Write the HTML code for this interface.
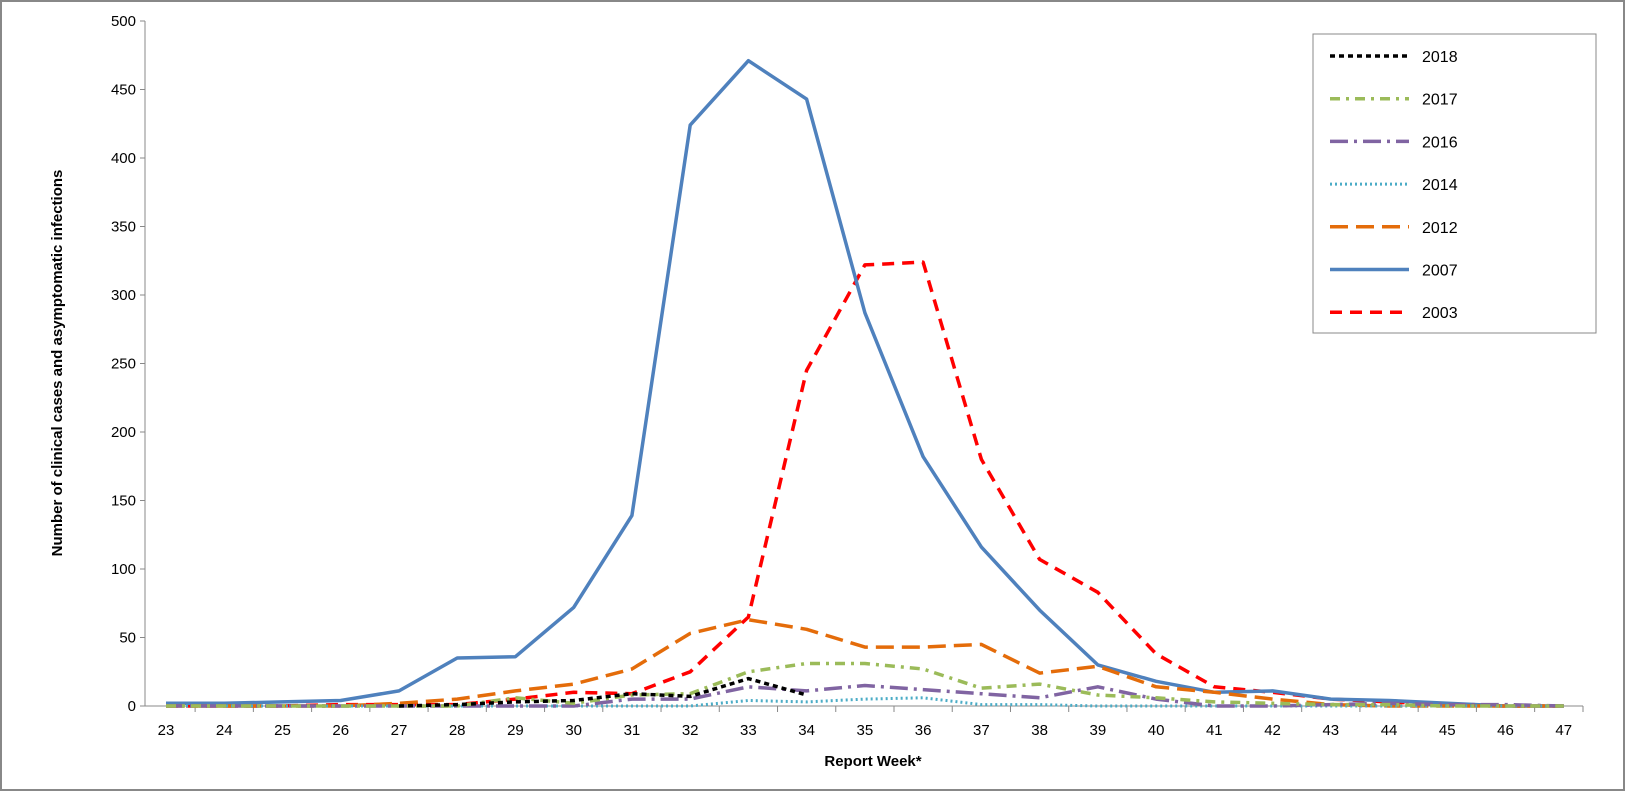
<!DOCTYPE html>
<html><head><meta charset="utf-8"><style>
html,body{margin:0;padding:0;background:#fff}
svg{display:block;font-family:"Liberation Sans",sans-serif}
</style></head><body>
<svg width="1625" height="791">
<rect x="1" y="1" width="1623" height="789" fill="#fff" stroke="#888" stroke-width="2"/>
<g id="axes"></g>
<g id="series"></g>
<text x="873" y="766" font-size="15" font-weight="bold" text-anchor="middle">Report Week*</text>
<text transform="translate(62,363) rotate(-90)" font-size="15" font-weight="bold" text-anchor="middle">Number of clinical cases and asymptomatic infections</text>
<g id="legend"></g>
</svg>
<script>
const weeks=[23,24,25,26,27,28,29,30,31,32,33,34,35,36,37,38,39,40,41,42,43,44,45,46,47];
const yTicks=[0,50,100,150,200,250,300,350,400,450,500];
const s2018=[null,null,null,null,0,1,3,4,9,7,20,8,null,null,null,null,null,null,null,null,null,null,null,null,null];
const s2017=[0,0,0,0,0,0,6,2,8,9,25,31,31,27,13,16,8,6,3,2,1,1,0,0,0];
const s2016=[0,0,0,0,0,0,0,0,5,5,14,11,15,12,9,6,14,5,0,0,1,2,1,1,0];
const s2014=[0,0,0,0,0,0,0,0,0,0,4,3,5,6,1,1,0,0,0,0,0,0,0,0,0];
const s2012=[0,0,0,0,2,5,11,16,27,53,63,56,43,43,45,24,29,14,10,5,1,0,0,0,0];
const s2007=[2,2,3,4,11,35,36,72,139,424,471,443,287,182,116,70,30,18,10,11,5,4,2,0,0];
const s2003=[0,0,0,1,1,1,5,10,9,25,65,245,322,324,180,107,83,38,14,10,5,3,1,0,0];
const NS="http://www.w3.org/2000/svg";
const X0=166,DX=58.24,Y0=706,YT=21,AX=145,AR=1583;
const xs=i=>X0+i*DX, ys=v=>Y0-(v/500)*(Y0-YT);
function mk(t,a,p){const e=document.createElementNS(NS,t);for(const k in a)e.setAttribute(k,a[k]);p.appendChild(e);return e;}
const ax=document.getElementById('axes');
const yl=mk('line',{x1:AX,y1:YT,x2:AX,y2:Y0,stroke:'#888'},ax);


const xl=mk('line',{x1:AX,y1:Y0,x2:AR,y2:Y0,stroke:'#888'},ax);


yTicks.forEach(v=>{
 mk('line',{x1:AX-5,y1:ys(v),x2:AX,y2:ys(v),stroke:'#888'},ax);
 const t=mk('text',{x:AX-9,y:ys(v)+5,'font-size':15,'text-anchor':'end'},ax);t.textContent=v;
 
 
});
weeks.forEach((w,i)=>{
 const bx=xs(i)-DX/2;
 if(bx>AX)mk('line',{x1:bx,y1:Y0,x2:bx,y2:Y0+6,stroke:'#888'},ax);
 const t=mk('text',{x:xs(i),y:735,'font-size':15,'text-anchor':'middle'},ax);t.textContent=w;
 
 
});
mk('line',{x1:AR,y1:Y0,x2:AR,y2:Y0+6,stroke:'#888'},ax);
const series=[
 ['2003',s2003,'#ff0000',3.5,'12,8'],
 ['2007',s2007,'#4f81bd',3.5,''],
 ['2012',s2012,'#e46c0a',3.5,'18,8'],
 ['2014',s2014,'#4bacc6',3,'2,3'],
 ['2016',s2016,'#8064a2',3.5,'18,6,3,6'],
 ['2017',s2017,'#9bbb59',3.5,'10,6,3,6'],
 ['2018',s2018,'#000',3.5,'5,4']];
const sg=document.getElementById('series');
series.forEach(([n,d,c,w,da])=>{
 let p='',pen=false;
 d.forEach((v,i)=>{if(v==null){pen=false;return;}p+=(pen?'L':'M')+xs(i).toFixed(1)+','+ys(v).toFixed(1);pen=true;});
 const e=mk('path',{d:p,fill:'none',stroke:c,'stroke-width':w,'stroke-dasharray':da,'stroke-linejoin':'round'},sg);
 
 
});
const lg=document.getElementById('legend');
const box=mk('rect',{x:1313,y:34,width:283,height:299,fill:'#fff',stroke:'#888'},lg);


const order=[6,5,4,3,2,1,0];
order.forEach((si,k)=>{
 const [n,d,c,w,da]=series[si];const y=56+k*42.7;
 const l=mk('line',{x1:1330,y1:y,x2:1409,y2:y,stroke:c,'stroke-width':w,'stroke-dasharray':da},lg);
 
 
 const t=mk('text',{x:1422,y:y+6,'font-size':16},lg);t.textContent=n;
 
 
});
</script>
</body></html>
